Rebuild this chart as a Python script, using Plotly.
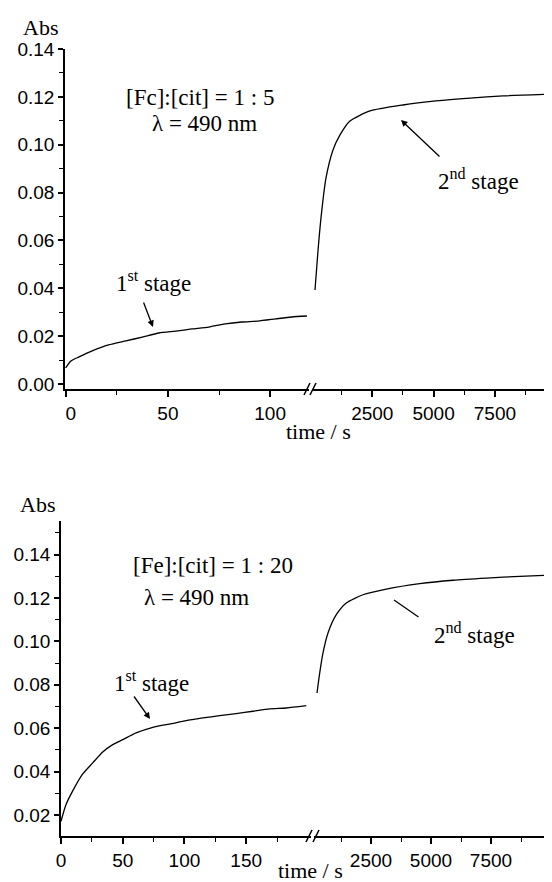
import plotly.graph_objects as go

W, H = 552, 882

# ---------------- data ----------------
# top panel, [Fe]:[cit] = 1:5
top_t1 = [0, 2.6, 6.6, 13, 21, 29.5, 37.5, 45.6, 53.9, 61.7, 70, 78, 86, 94, 102.7, 110.5, 118]
top_a1 = [0.0067, 0.0096, 0.0113, 0.0138, 0.0163, 0.0180, 0.0196, 0.0213, 0.0221, 0.0230,
          0.0238, 0.0251, 0.0259, 0.0263, 0.0272, 0.0280, 0.0284]
top_t2 = [163, 285, 408, 612, 897, 1183, 1591, 2406, 3752, 5098, 6485, 7830, 9951]
top_a2 = [0.0393, 0.0556, 0.0694, 0.0861, 0.0978, 0.1041, 0.1099, 0.1141, 0.1166, 0.1183,
          0.1195, 0.1204, 0.1212]

# bottom panel, [Fe]:[cit] = 1:20
bot_t1 = [0, 4, 9.5, 17.6, 25.7, 33.8, 41.9, 50, 60.8, 74.4, 87.9, 101.4, 114.9, 128.5,
          141.9, 155.5, 169, 182.5, 198.7]
bot_a1 = [0.0171, 0.0247, 0.0311, 0.0389, 0.0440, 0.0490, 0.0524, 0.0547, 0.0578, 0.0604,
          0.0619, 0.0635, 0.0647, 0.0658, 0.0667, 0.0678, 0.0689, 0.0693, 0.0704]
bot_t2 = [250, 362, 500, 708, 1054, 1471, 2167, 3138, 4529, 5917, 7304, 8696, 10179]
bot_a2 = [0.0762, 0.0854, 0.0947, 0.1039, 0.1123, 0.1177, 0.1215, 0.1241, 0.1266, 0.1282,
          0.1292, 0.1300, 0.1307]

left_top_ticks = [0, 50, 100]
left_top_ticktext = ["\u00a0\u00a00", "50", "100"]
left_top_minor = [25, 75]
left_bot_ticks = [0, 50, 100, 150]
left_bot_minor = [25, 75, 125, 175]
right_ticks = [2500, 5000, 7500, 10000]
right_ticktext = ["2500", "5000", "7500", ""]
right_minor = [1250, 3750, 6250, 8750]

# ---------------- helpers ----------------
def px(x):
    return x / W

def py(y):
    return 1 - y / H

SANS = "Liberation Sans, Arial, sans-serif"
SERIF = "Liberation Serif, Times New Roman, serif"
tickfont = dict(family=SANS, size=19, color="black")

def xax(domain, rng, tickvals, ticktext, minor_vals, anchor):
    d = dict(domain=domain, range=rng, anchor=anchor, automargin=False, showline=True,
             linecolor="black", linewidth=1.5, ticks="outside", ticklen=6, tickwidth=1.5,
             tickcolor="black", tickvals=tickvals, showgrid=False, zeroline=False,
             tickfont=tickfont,
             minor=dict(tickvals=minor_vals, ticks="outside", ticklen=4, tickwidth=1.2,
                        tickcolor="black", showgrid=False))
    if ticktext is not None:
        d["ticktext"] = ticktext
    return d

def yax(domain, rng, anchor, minor_vals):
    return dict(domain=domain, range=rng, anchor=anchor, automargin=False, showline=True,
                linecolor="black", linewidth=1.5, ticks="outside", ticklen=5, tickwidth=1.5,
                tickcolor="black", tick0=0, dtick=0.02, tickformat=".2f", showgrid=False,
                zeroline=False, tickfont=tickfont,
                minor=dict(tickvals=minor_vals, ticks="outside", ticklen=4, tickwidth=1.2,
                           tickcolor="black", showgrid=False))

fig = go.Figure()
line = dict(color="black", width=1.3, shape="spline", smoothing=0.6)
fig.add_trace(go.Scatter(x=top_t1, y=top_a1, mode="lines", line=line, xaxis="x", yaxis="y"))
fig.add_trace(go.Scatter(x=top_t2, y=top_a2, mode="lines", line=line, xaxis="x2", yaxis="y"))
fig.add_trace(go.Scatter(x=bot_t1, y=bot_a1, mode="lines", line=line, xaxis="x3", yaxis="y2"))
fig.add_trace(go.Scatter(x=bot_t2, y=bot_a2, mode="lines", line=line, xaxis="x4", yaxis="y2"))

fig.update_layout(
    width=W, height=H, margin=dict(l=0, r=0, t=0, b=0, autoexpand=False),
    paper_bgcolor="white", plot_bgcolor="white", showlegend=False,
    xaxis=xax([px(57), px(301)], [-0.3, 119.0], left_top_ticks, left_top_ticktext,
              left_top_minor, "y"),
    xaxis2=xax([px(304), px(549)], [41, 10033], right_ticks, right_ticktext, right_minor, "y"),
    yaxis=yax([py(381), py(41)], [-0.0021, 0.14], "x",
              [0.01, 0.03, 0.05, 0.07, 0.09, 0.11, 0.13]),
    xaxis3=xax([px(53), px(303)], [0, 202.5], left_bot_ticks, None, left_bot_minor, "y2"),
    xaxis4=xax([px(306), 1.0], [125, 10375], right_ticks, right_ticktext, right_minor, "y2"),
    yaxis2=yax([py(828), py(513)], [0.0103, 0.1555], "x3",
               [0.03, 0.05, 0.07, 0.09, 0.11, 0.13, 0.15]),
)

# axis break marks
for (x0, y0, x1, y1) in [(296, 387, 302, 375), (302, 387, 308, 375),
                         (298, 834, 304, 822), (305, 834, 311, 822)]:
    fig.add_shape(type="line", xref="paper", yref="paper",
                  x0=px(x0), y0=py(y0), x1=px(x1), y1=py(y1),
                  line=dict(color="black", width=1.5))


def text(x, y, s, size=23):
    fig.add_annotation(x=px(x), y=py(y), xref="paper", yref="paper", text=s,
                       showarrow=False, font=dict(family=SERIF, size=size, color="black"),
                       xanchor="center", yanchor="middle")

def arrow(tip, tail, head=2):
    fig.add_annotation(x=px(tip[0]), y=py(tip[1]), xref="paper", yref="paper", text="",
                       showarrow=True, ax=tail[0] - tip[0], ay=tail[1] - tip[1],
                       arrowhead=head, arrowsize=1, arrowwidth=1.3, arrowcolor="black")

# top panel texts
text(32, 20, "Abs", size=22)
text(192, 89, "[Fc]:[cit] = 1 : 5")
text(196, 115, "λ = 490 nm")
text(145, 273, "1<sup>st</sup> stage")
arrow((145, 319), (135, 293))
text(470, 171, "2<sup>nd</sup> stage")
arrow((393, 112), (433, 150))
text(310, 424, "time / s", size=22)

# bottom panel texts
text(29, 496, "Abs", size=22)
text(205, 557, "[Fe]:[cit] = 1 : 20")
text(188, 589, "λ = 490 nm")
text(143, 673, "1<sup>st</sup> stage")
arrow((142, 711), (125, 687))
text(466, 625, "2<sup>nd</sup> stage")
arrow((386, 592), (412, 610), head=0)
text(302, 862, "time / s", size=22)

fig.write_html("out.html")
